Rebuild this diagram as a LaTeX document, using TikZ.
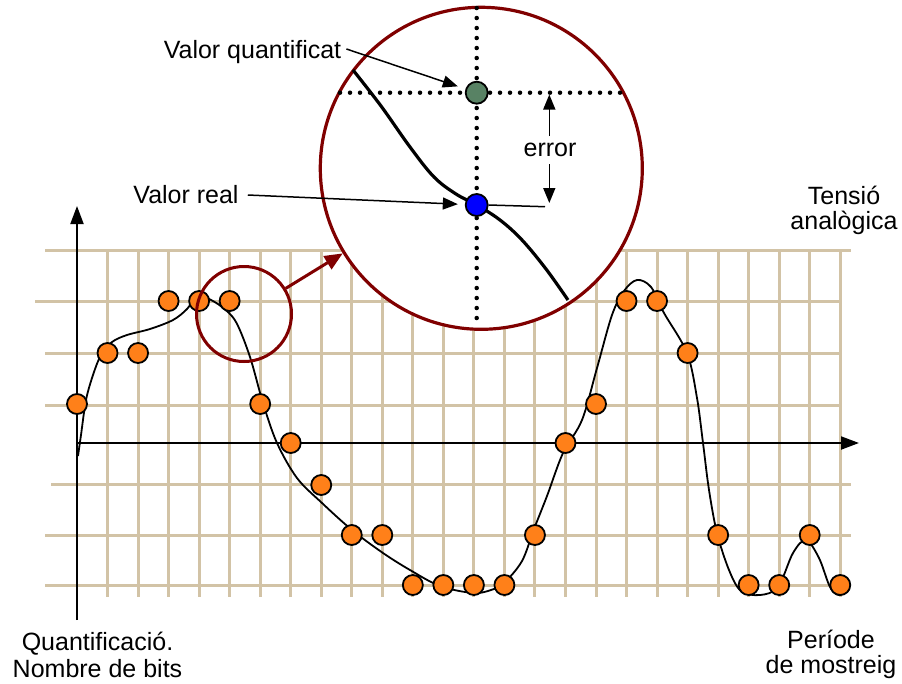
\documentclass[tikz,border=0pt]{standalone}
\usepackage{fontspec}
\setmainfont{Liberation Sans}
\usetikzlibrary{arrows.meta}
\definecolor{gridc}{RGB}{210,195,166}
\definecolor{dred}{RGB}{128,0,0}
\definecolor{orng}{RGB}{255,128,25}
\definecolor{qgreen}{RGB}{88,130,100}
\begin{document}
\begin{tikzpicture}[x=1pt,y=-1pt,
  gridline/.style={gridc, line width=3pt},
  axisline/.style={black, line width=2pt, -{Triangle[length=18pt,width=13pt]}},
  sample/.style={circle, draw=black, line width=1.8pt, fill=orng, minimum size=20pt, inner sep=0pt},
  bigdot/.style={circle, draw=black, line width=1.8pt, minimum size=22pt, inner sep=0pt},
  lbl/.style={font=\fontsize{25}{25}\selectfont, align=center, inner sep=0pt},
  lblarrow/.style={black, line width=1.5pt, -{Triangle[length=15pt,width=12pt]}},
  dotline/.style={black, line width=4.5pt, line cap=round, dash pattern=on 0pt off 10pt},
  signal/.style={black, line width=1.8pt}
]
\useasboundingbox (0,0) rectangle (902,683);
% grid
\foreach \i in {1,...,25} \draw[gridline] ({77+30.53*\i},250.7) -- ({77+30.53*\i},597);
\foreach \y/\a/\b in {250.7/45/851, 301.3/35/840, 353.3/45/840, 405/45/840, 484/51/851, 535/45/851, 585/45/851}
  \draw[gridline] (\a,\y) -- (\b,\y);
% axes
\coordinate (ybot) at (77,620);
\coordinate (ytop) at (77,206);
\coordinate (xorg) at (77,443);
\coordinate (xend) at (859,443);
\draw[axisline] (ybot) -- (ytop);
\draw[axisline] (xorg) -- (xend);
% analog signal
\draw[signal] plot[smooth, tension=0.55] coordinates {
 (78,456) (81,435) (86,400) (93,375) (101,355) (112,342) (127,335) (150,329) (173,320)
 (187,309) (197,296) (207,298) (222,307) (236,322) (250,357) (263,403) (277,443)
 (297,478) (322,503) (352,530) (383,553) (410,570) (440,586) (473,593) (491,590)
 (504,583) (522,561) (534,529) (547,496) (563,453) (582,420) (597,368) (612,315)
 (624,291) (637,280) (651,287) (664,313) (687,353) (697,398) (703,443) (709,490)
 (717,533) (729,570) (741,591) (760,595) (778,587) (793,553) (806,540) (819,558)
 (830,587) (839,595) (849,590)};
% samples
\foreach \i/\y in {0/404, 1/353, 2/353, 3/301, 4/301, 5/301, 6/404, 7/443, 8/485,
  9/535, 10/535, 11/585, 12/585, 13/585, 14/585, 15/535, 16/443, 17/404, 18/301,
  19/301, 20/353, 21/535, 22/585, 23/585, 24/535, 25/585}
  \node[sample] (s\i) at ({77+30.53*\i},\y) {};
% zoom circles
\node[circle, draw=dred, line width=3pt, minimum size=95pt, inner sep=0pt] (small) at (244,314) {};
\node[circle, draw=dred, fill=white, line width=3.2pt, minimum size=322pt, inner sep=0pt] (big) at (481.3,168.3) {};
\draw[dred, line width=3pt, -{Triangle[length=18pt,width=15pt]}] (small) -- (big);
% inside the zoom
\coordinate (vtop) at (476.7,8);
\coordinate (vbot) at (476.7,323);
\coordinate (hl) at (340,92.7);
\coordinate (hr) at (621,92.7);
\draw[dotline] (vtop) -- (vbot);
\draw[dotline] (hl) -- (hr);
\draw[black, line width=3.2pt] plot[smooth, tension=0.6] coordinates {
 (353,70) (381,106) (410,147) (434,177) (456,194) (476.7,205) (500,220) (522,240) (546,269) (568,300)};
\node[bigdot, fill=qgreen] (qdot) at (476.7,92.7) {};
\node[bigdot, fill=blue] (rdot) at (476.7,205) {};
% error
\node[lbl] (err) at (550,150) {error};
\coordinate (e1s) at (549.3,136);
\coordinate (e1t) at (549.3,94.5);
\coordinate (e2s) at (549.3,164);
\coordinate (e2t) at (549.3,203);
\coordinate (hend) at (545,206.7);
\draw[lblarrow] (e1s) -- (e1t);
\draw[lblarrow] (e2s) -- (e2t);
\draw[black, line width=1.5pt] (rdot.east) -- (hend);
% labels
\node[lbl] (vq) at (252.5,52) {Valor quantificat};
\node[lbl] (vr) at (186,195) {Valor real};
\draw[lblarrow, shorten >=8pt] ([xshift=5pt,yshift=3pt]vq.east) -- (qdot);
\draw[lblarrow, shorten >=7pt] ([xshift=9pt]vr.east) -- (rdot);
\node[lbl, font=\fontsize{25}{25}\selectfont] (tens) at (844,210) {Tensió\\analògica};
\node[lbl, font=\fontsize{25}{26.5}\selectfont] (quant) at (97.5,655) {Quantificació.\\Nombre de bits};
\node[lbl, font=\fontsize{25}{25}\selectfont] (per) at (831,654) {Període\\de mostreig};
\end{tikzpicture}
\end{document}
